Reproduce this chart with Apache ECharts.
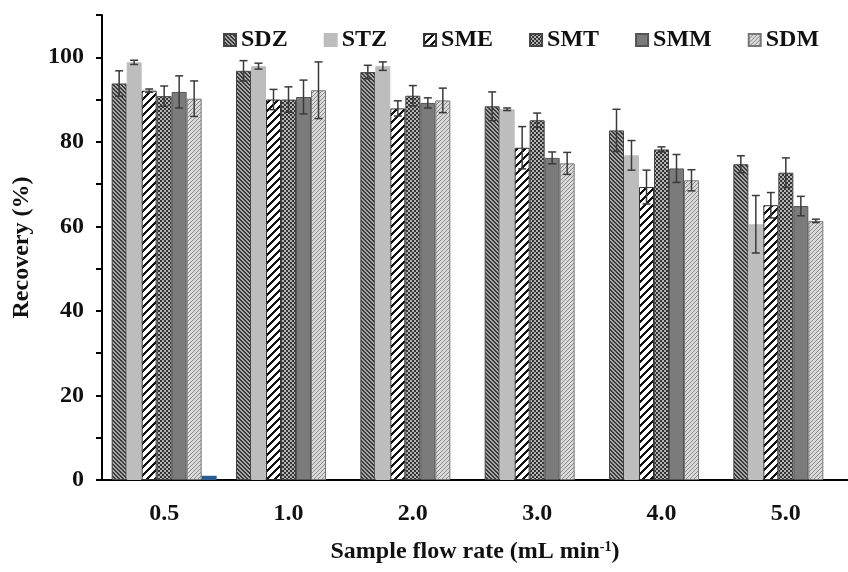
<!DOCTYPE html>
<html>
<head>
<meta charset="utf-8">
<script src="https://cdn.jsdelivr.net/npm/echarts@6/dist/echarts.min.js"></script>
<style>html,body{margin:0;padding:0;background:#fff}#main{width:848px;height:572px}</style>
</head>
<body>
<div id="main"></div>
<script>
var categories = ['0.5', '1.0', '2.0', '3.0', '4.0', '5.0'];
var seriesNames = ['SDZ', 'STZ', 'SME', 'SMT', 'SMM', 'SDM'];
var sdz = [93.8, 96.8, 96.5, 88.4, 82.7, 74.7];
var sdzErr = [3.0, 2.4, 1.6, 3.4, 5.0, 2.0];
var stz = [98.8, 97.9, 97.9, 87.7, 76.8, 60.5];
var stzErr = [0.5, 0.7, 1.0, 0.3, 3.5, 6.8];
var sme = [92.1, 90.0, 87.9, 78.6, 69.3, 65.0];
var smeErr = [0.4, 2.4, 1.8, 5.0, 4.0, 3.0];
var smt = [90.8, 90.0, 90.9, 85.1, 78.2, 72.7];
var smtErr = [2.4, 3.0, 2.4, 1.7, 0.6, 3.5];
var smm = [91.8, 90.6, 89.2, 76.2, 73.7, 64.8];
var smmErr = [3.8, 4.0, 1.2, 1.4, 3.3, 2.3];
var sdm = [90.2, 92.2, 89.8, 74.9, 70.9, 61.3];
var sdmErr = [4.2, 6.7, 2.9, 2.6, 2.5, 0.4];
// stray little blue bar next to the 0.5 group
var stray = [1, '-', '-', '-', '-', '-'];
var yLabels = [0, 20, 40, 60, 80, 100];

var BAR_W = 15;
var FONT = '"Liberation Serif", "Times New Roman", serif';

// small repeating tiles for the hatch fills
function tile(size, bg, fg, test) {
    var c = document.createElement('canvas');
    c.width = size; c.height = size;
    var ctx = c.getContext('2d');
    ctx.fillStyle = bg;
    ctx.fillRect(0, 0, size, size);
    ctx.fillStyle = fg;
    for (var x = 0; x < size; x++) {
        for (var y = 0; y < size; y++) {
            if (test(x, y)) ctx.fillRect(x, y, 1, 1);
        }
    }
    return {image: c, repeat: 'repeat'};
}

var fills = [
    tile(4, '#a8a8a8', '#3a3a3a', function(x, y) { return (x - y + 4) % 4 < 2; }),
    '#bdbdbd',
    tile(8, '#ffffff', '#111111', function(x, y) { return (x + y) % 8 < 3; }),
    tile(4, '#b4b4b4', '#333333', function(x, y) { return (Math.floor(x / 2) + Math.floor(y / 2)) % 2 === 0; }),
    '#7b7b7b',
    tile(4, '#dadada', '#8a8a8a', function(x, y) { return (x + y) % 4 < 1; })
];
var borders = ['#444', '#bdbdbd', '#333', '#444', '#555', '#777'];

var values = [sdz, stz, sme, smt, smm, sdm];
var errors = [sdzErr, stzErr, smeErr, smtErr, smmErr, sdmErr];

function errSeries(idx) {
    var data = values[idx].map(function(v, i) { return [i, v, errors[idx][i]]; });
    return {
        type: 'custom',
        z: 5,
        silent: true,
        encode: {x: 0, y: 1},
        data: data,
        renderItem: function(params, api) {
            var ci = api.value(0), v = api.value(1), e = api.value(2);
            var top = api.coord([ci, v + e]);
            var bot = api.coord([ci, v - e]);
            var x = top[0] + (idx - 3) * BAR_W;
            var st = {stroke: '#3a3a3a', lineWidth: 1.5};
            return {
                type: 'group',
                children: [
                    {type: 'line', shape: {x1: x, y1: top[1], x2: x, y2: bot[1]}, style: st},
                    {type: 'line', shape: {x1: x - 4, y1: top[1], x2: x + 4, y2: top[1]}, style: st},
                    {type: 'line', shape: {x1: x - 4, y1: bot[1], x2: x + 4, y2: bot[1]}, style: st}
                ]
            };
        }
    };
}

var series = [];
seriesNames.forEach(function(name, i) {
    series.push({
        name: name,
        type: 'bar',
        barWidth: BAR_W,
        barGap: '0%',
        data: values[i],
        itemStyle: {color: fills[i], borderColor: borders[i], borderWidth: 1}
    });
});
series.push({
    name: 'extra',
    type: 'bar',
    barWidth: BAR_W,
    barGap: '0%',
    data: stray,
    itemStyle: {color: '#2a5b8c'}
});
seriesNames.forEach(function(name, i) {
    series.push(errSeries(i));
});

var myChart = echarts.init(document.getElementById('main'));
var option = {
    animation: false,
    backgroundColor: '#fff',
    legend: {
        data: seriesNames,
        top: 23,
        left: 218,
        itemGap: 36,
        itemWidth: 12,
        itemHeight: 12,
        icon: 'rect',
        textStyle: {fontFamily: FONT, fontWeight: 'bold', fontSize: 24, color: '#111'}
    },
    grid: {left: 102, top: 15, width: 752, bottom: 92},
    xAxis: {
        type: 'category',
        data: categories,
        axisLine: {lineStyle: {color: '#000', width: 2}},
        axisTick: {length: 6, lineStyle: {color: '#000', width: 2}},
        axisLabel: {margin: 22, color: '#111', fontFamily: FONT, fontWeight: 'bold', fontSize: 24},
        name: 'Sample flow rate (mL min{sup|-1})',
        nameLocation: 'middle',
        nameGap: 60,
        nameTextStyle: {
            color: '#111', fontFamily: FONT, fontWeight: 'bold', fontSize: 24,
            rich: {sup: {fontFamily: FONT, fontWeight: 'bold', fontSize: 14, verticalAlign: 'top', padding: [0, 0, 10, 0], color: '#111'}}
        }
    },
    yAxis: {
        type: 'value',
        min: 0,
        max: 110,
        interval: 10,
        splitLine: {show: false},
        axisLine: {show: true, lineStyle: {color: '#000', width: 2}},
        axisTick: {show: true, length: 6, lineStyle: {color: '#000', width: 2}},
        axisLabel: {
            margin: 18, color: '#111', fontFamily: FONT, fontWeight: 'bold', fontSize: 24,
            formatter: function(v) { return yLabels.indexOf(v) >= 0 ? String(v) : ''; }
        },
        name: 'Recovery (%)',
        nameLocation: 'middle',
        nameGap: 68,
        nameTextStyle: {color: '#111', fontFamily: FONT, fontWeight: 'bold', fontSize: 24}
    },
    series: series
};
myChart.setOption(option);
</script>
</body>
</html>
